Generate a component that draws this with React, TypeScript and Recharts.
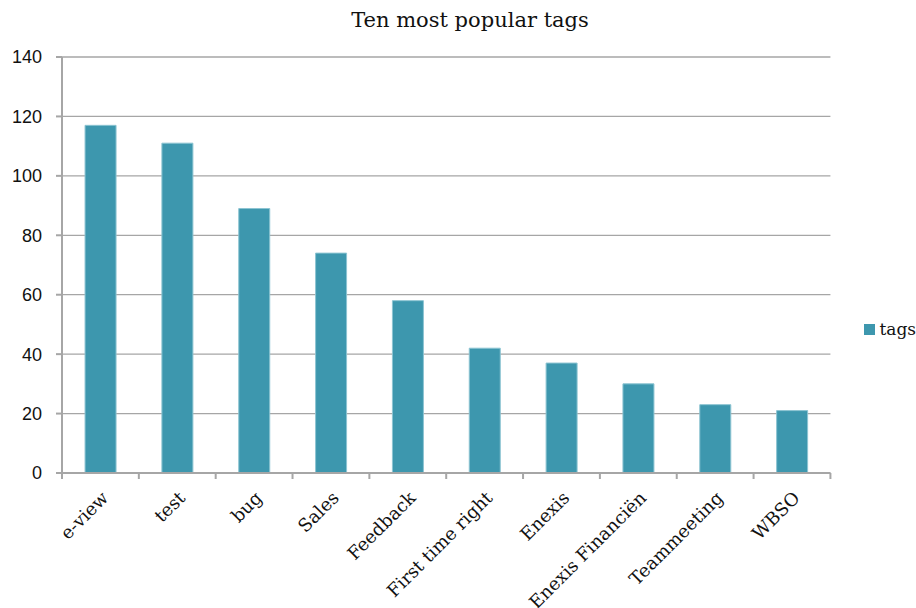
import React from 'react';
import { BarChart, Bar, XAxis, YAxis, CartesianGrid, Legend } from 'recharts';

const tagNames = [
  'e-view',
  'test',
  'bug',
  'Sales',
  'Feedback',
  'First time right',
  'Enexis',
  'Enexis Financiën',
  'Teammeeting',
  'WBSO',
];
const tagCounts = [117, 111, 89, 74, 58, 42, 37, 30, 23, 21];
const yTicks = [0, 20, 40, 60, 80, 100, 120, 140];
const boundaryTicks = [0, 1, 2, 3, 4, 5, 6, 7, 8, 9, 10];

const data = tagNames.map((name, i) => ({ name, tags: tagCounts[i], slot: i + 0.5 }));

const serif = '"DejaVu Serif", serif';
const axisGray = '#a6a6a6';

// the edge axis only draws the little tick marks between categories
const NoLabel = () => <g />;

const LegendBox = ({ payload }: any) => (
  <div style={{ display: 'flex', alignItems: 'center', fontFamily: serif, fontSize: 17, color: '#111' }}>
    {(payload || []).map((p: any) => (
      <React.Fragment key={p.value}>
        <span style={{ display: 'inline-block', width: 11, height: 11, background: p.color, marginRight: 4 }} />
        <span style={{ fontFamily: serif }}>{p.value}</span>
      </React.Fragment>
    ))}
  </div>
);

const App = () => {
  return (
    <div style={{ position: 'absolute', left: 0, top: 0, width: 916, height: 608, background: '#fff' }}>
      <div
        style={{
          position: 'absolute',
          left: 0,
          width: 940,
          top: 8,
          textAlign: 'center',
          fontFamily: serif,
          fontSize: 21,
          color: '#111',
        }}
      >
        Ten most popular tags
      </div>
      <BarChart
        width={916}
        height={608}
        data={data}
        margin={{ top: 57, right: 34, left: 0, bottom: 0 }}
        barCategoryGap="30%"
      >
        <CartesianGrid vertical={false} stroke={axisGray} strokeWidth={1.3} />
        <XAxis
          xAxisId="a_edges"
          dataKey="slot"
          type="number"
          domain={[0, 10]}
          ticks={boundaryTicks}
          allowDataOverflow
          height={1}
          tick={NoLabel}
          tickSize={6}
          stroke={axisGray}
          strokeWidth={2}
        />
        <XAxis
          xAxisId="b_cat"
          dataKey="name"
          height={134}
          interval={0}
          axisLine={false}
          tickLine={false}
          angle={-45}
          textAnchor="end"
          tickMargin={10}
          tick={{ fontFamily: serif, fontSize: 18, fill: '#111' }}
        />
        <YAxis
          domain={[0, 140]}
          ticks={yTicks}
          width={62}
          tickSize={6}
          tickMargin={14}
          stroke={axisGray}
          strokeWidth={2}
          tick={{ fontFamily: '"Liberation Sans", Arial, sans-serif', fontSize: 18, fill: '#111' }}
        />
        <Legend
          layout="vertical"
          align="right"
          verticalAlign="middle"
          wrapperStyle={{ right: 0, top: 319, fontFamily: serif }}
          content={LegendBox}
        />
        <Bar
          xAxisId="b_cat"
          dataKey="tags"
          fill="#3d97ae"
          stroke="#8cc4d2"
          strokeWidth={1}
          isAnimationActive={false}
        />
      </BarChart>
    </div>
  );
};

export default App;
